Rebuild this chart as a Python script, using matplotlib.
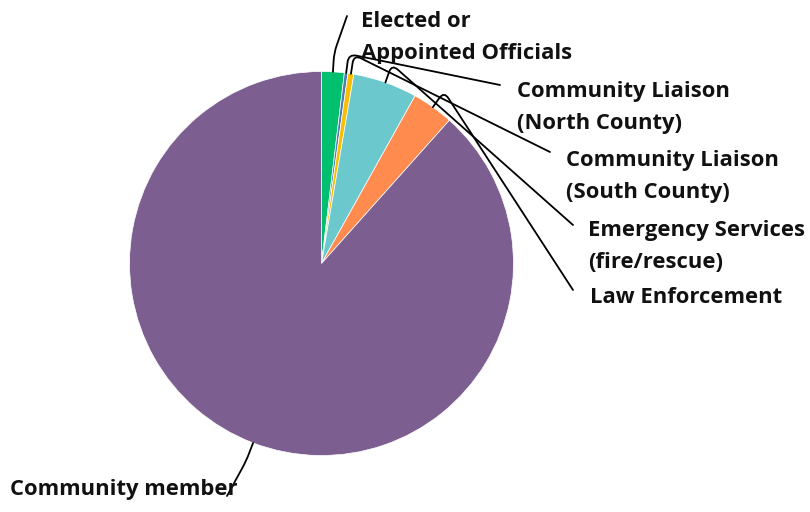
import numpy as np
import matplotlib
matplotlib.use("Agg")
import matplotlib.pyplot as plt
from matplotlib.path import Path
from matplotlib.patches import PathPatch

# Respondent roles (share of responses, %)
categories = [
    "Elected or\nAppointed Officials",
    "Community Liaison\n(North County)",
    "Community Liaison\n(South County)",
    "Emergency Services\n(fire/rescue)",
    "Law Enforcement",
    "Community member",
]
shares = [1.9, 0.3, 0.5, 5.4, 3.5, 88.4]
colors = ["#00BF6F", "#507CB6", "#F9BE00", "#6BC8CD", "#FF8B4F", "#7D5E90"]

W, H = 810, 512
fig = plt.figure(figsize=(W / 100, H / 100), dpi=100)
ax = fig.add_axes([0, 0, 1, 1])


def px(x, y):
    """Convert a top-left based position to axes coordinates (y up)."""
    return np.array([x, H - y], dtype=float)


cx, cy = px(321.5, 263.5)
R = 192.0

ax.pie(
    shares, colors=colors, startangle=90, counterclock=False,
    center=(cx, cy), radius=R, frame=True,
    wedgeprops=dict(edgecolor="white", linewidth=0.5),
)
ax.set_xlim(0, W)
ax.set_ylim(0, H)
ax.set_aspect("equal")
ax.axis("off")

# label placement: (text left x, first baseline y, leader end point)
label_pos = [
    (361, 27, (347, 16)),
    (517, 97, (500, 85)),
    (566, 166, (550, 152)),
    (588, 236, (573, 225)),
    (590, 303, (573, 290)),
    (10, 495, (227, 496)),
]
line_step = 32
font = dict(family=["Open Sans", "DejaVu Sans"], fontsize=15.8, fontweight="bold",
            color="#111111")

cum = np.cumsum([0] + shares[:-1])
total = float(sum(shares))
for share, start, label, (tx, ty, end) in zip(shares, cum, categories, label_pos):
    mid = (start + share / 2) / total * 2 * np.pi  # clockwise from top
    ux, uy = np.sin(mid), np.cos(mid)
    p0 = np.array([cx + R * ux, cy + R * uy])
    p1 = np.array([cx + 1.1 * R * ux, cy + 1.1 * R * uy])
    pe = px(*end)
    d0 = (p1 - p0) / np.linalg.norm(p1 - p0)
    d1 = (pe - p1) / np.linalg.norm(pe - p1)
    r = min(8.0, 0.45 * np.linalg.norm(pe - p1), 0.9 * np.linalg.norm(p1 - p0))
    q0 = p1 - d0 * r
    q1 = p1 + d1 * r
    verts = [p0, q0, p1, q1, pe]
    codes = [Path.MOVETO, Path.LINETO, Path.CURVE3, Path.CURVE3, Path.LINETO]
    ax.add_patch(PathPatch(Path(verts, codes), fill=False, edgecolor="black",
                           linewidth=1.3, capstyle="round", joinstyle="round"))
    for i, line in enumerate(label.split("\n")):
        x, y = px(tx, ty + i * line_step)
        ax.text(x, y, line, ha="left", va="baseline", **font)

fig.savefig("out.png", dpi=100, facecolor="white")
